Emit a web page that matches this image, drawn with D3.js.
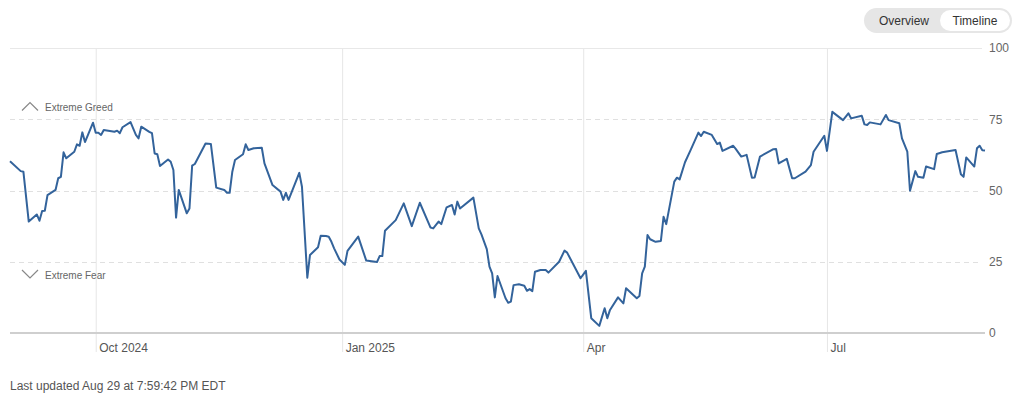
<!DOCTYPE html>
<html>
<head>
<meta charset="utf-8">
<script src="https://cdn.jsdelivr.net/npm/d3@7"></script>
<style>
  body { margin: 0; background: #fff; }
  svg { display: block; font-family: "Liberation Sans", Arial, sans-serif; }
</style>
</head>
<body>
<div class="canvas"></div>
<script>
const canvasWidth = 1024;
const canvasHeight = 397;

// fear & greed index
const dates = [
  '2024-08-30','2024-09-03','2024-09-04','2024-09-06','2024-09-09','2024-09-10','2024-09-11','2024-09-12','2024-09-13',
  '2024-09-16','2024-09-17','2024-09-18','2024-09-19','2024-09-20','2024-09-23','2024-09-24','2024-09-25','2024-09-26',
  '2024-09-27','2024-09-30','2024-10-01','2024-10-02','2024-10-03','2024-10-04','2024-10-08','2024-10-09','2024-10-10',
  '2024-10-11','2024-10-14','2024-10-16','2024-10-17','2024-10-18','2024-10-21','2024-10-22','2024-10-23','2024-10-24',
  '2024-10-25','2024-10-28','2024-10-29','2024-10-30','2024-10-31','2024-11-01','2024-11-04','2024-11-05','2024-11-06',
  '2024-11-07','2024-11-11','2024-11-13','2024-11-15','2024-11-18','2024-11-19','2024-11-20','2024-11-21','2024-11-22',
  '2024-11-25','2024-11-26','2024-11-27','2024-11-29','2024-12-02','2024-12-03','2024-12-06','2024-12-09','2024-12-10',
  '2024-12-11','2024-12-12','2024-12-16','2024-12-17','2024-12-19','2024-12-20','2024-12-23','2024-12-24','2024-12-26',
  '2024-12-27','2024-12-28','2024-12-29','2024-12-31','2025-01-02','2025-01-03','2025-01-07','2025-01-10','2025-01-14',
  '2025-01-15','2025-01-16','2025-01-17','2025-01-21','2025-01-24','2025-01-27','2025-01-30','2025-02-03','2025-02-04',
  '2025-02-06','2025-02-07','2025-02-09','2025-02-11','2025-02-12','2025-02-13','2025-02-14','2025-02-19','2025-02-21',
  '2025-02-22','2025-02-24','2025-02-25','2025-02-26','2025-02-27','2025-02-28','2025-03-03','2025-03-04','2025-03-05',
  '2025-03-06','2025-03-08','2025-03-10','2025-03-11','2025-03-12','2025-03-13','2025-03-14','2025-03-16','2025-03-18',
  '2025-03-19','2025-03-23','2025-03-25','2025-03-26','2025-03-31','2025-04-02','2025-04-04','2025-04-07','2025-04-09',
  '2025-04-10','2025-04-11','2025-04-14','2025-04-16','2025-04-17','2025-04-21','2025-04-22','2025-04-23','2025-04-24',
  '2025-04-25','2025-04-26','2025-04-28','2025-04-30','2025-05-01','2025-05-02','2025-05-05','2025-05-06','2025-05-07',
  '2025-05-09','2025-05-11','2025-05-14','2025-05-15','2025-05-16','2025-05-19','2025-05-21','2025-05-22','2025-05-23',
  '2025-05-27','2025-05-28','2025-05-30','2025-06-01','2025-06-03','2025-06-04','2025-06-06','2025-06-11','2025-06-12',
  '2025-06-13','2025-06-16','2025-06-18','2025-06-19','2025-06-23','2025-06-25','2025-06-26','2025-06-30','2025-07-01',
  '2025-07-03','2025-07-07','2025-07-09','2025-07-10','2025-07-14','2025-07-15','2025-07-16','2025-07-17','2025-07-21',
  '2025-07-23','2025-07-24','2025-07-28','2025-07-29','2025-07-31','2025-08-01','2025-08-03','2025-08-04','2025-08-06',
  '2025-08-07','2025-08-10','2025-08-11','2025-08-13','2025-08-18','2025-08-20','2025-08-21','2025-08-22','2025-08-25',
  '2025-08-26','2025-08-27','2025-08-28','2025-08-29'
];
const values = [
  60.3, 56.8, 56.6, 39.1, 41.6, 39.4, 42.8, 42.9, 48.4,
  50.2, 54.3, 54.8, 63.4, 61.3, 63.6, 66.2, 65.7, 70.4,
  67.0, 73.8, 70.3, 70.3, 69.5, 71.2, 70.6, 71.0, 70.1,
  72.2, 74.0, 69.5, 68.3, 72.4, 70.6, 70.1, 63.0, 62.7,
  58.6, 60.9, 60.1, 57.2, 40.5, 50.2, 42.0, 43.7, 58.7,
  59.3, 66.5, 66.3, 51.0, 50.2, 49.2, 49.2, 56.6, 60.7,
  62.7, 66.2, 64.2, 64.8, 65.0, 59.5, 51.9, 49.6, 46.7,
  49.2, 46.7, 56.2, 51.3, 19.4, 27.4, 30.1, 34.1, 34.0,
  33.8, 32.0, 29.7, 25.8, 23.9, 28.8, 33.8, 25.4, 24.9,
  27.0, 27.0, 35.9, 39.6, 45.5, 37.5, 45.7, 37.0, 36.7,
  39.1, 38.2, 44.1, 44.9, 41.6, 46.1, 43.7, 47.5, 36.7,
  34.6, 29.4, 23.3, 20.9, 12.5, 20.0, 12.2, 10.6, 11.0,
  16.8, 17.1, 16.6, 14.8, 15.4, 14.7, 21.5, 22.1, 22.1,
  21.2, 25.0, 28.9, 28.2, 19.2, 21.8, 5.2, 2.5, 8.7,
  5.2, 8.1, 12.5, 10.4, 15.7, 12.2, 13.0, 20.9, 23.3,
  34.4, 32.9, 32.0, 32.3, 40.8, 38.2, 53.1, 54.5, 53.9,
  59.9, 64.0, 70.3, 69.1, 70.6, 69.5, 66.3, 66.8, 63.9,
  65.7, 64.5, 61.9, 62.5, 54.5, 54.6, 61.9, 64.5, 64.6,
  59.5, 61.1, 54.3, 54.3, 56.6, 58.9, 63.6, 69.2, 63.9,
  77.6, 74.7, 77.1, 75.3, 76.2, 73.2, 73.0, 73.9, 73.2,
  76.5, 74.7, 73.6, 68.3, 63.6, 49.9, 56.8, 54.8, 54.5,
  58.4, 57.5, 62.8, 63.4, 64.2, 55.7, 54.8, 61.6, 58.4,
  64.8, 65.7, 64.1, 64.0
];

const xTickDates = ['2024-10-01', '2025-01-01', '2025-04-01', '2025-07-01'];
const xTickLabels = ['Oct 2024', 'Jan 2025', 'Apr', 'Jul'];
const yTicks = [0, 25, 50, 75, 100];
const zoneLabels = ['Extreme Greed', 'Extreme Fear'];
const toggleLabels = ['Overview', 'Timeline'];
const updatedText = 'Last updated Aug 29 at 7:59:42 PM EDT';

const parseDate = d3.timeParse('%Y-%m-%d');
const data = dates.map((d, i) => ({ date: parseDate(d), value: values[i] }));

const plot = { left: 10, right: 985, top: 48, bottom: 333 };

const svg = d3.select('.canvas')
  .append('svg')
  .attr('width', canvasWidth)
  .attr('height', canvasHeight);

const x = d3.scaleTime()
  .domain(d3.extent(data, d => d.date))
  .range([plot.left, plot.right]);

const y = d3.scaleLinear()
  .domain([0, 100])
  .range([plot.bottom, plot.top]);

// vertical month lines + labels
const xAxisGroup = svg.append('g')
  .attr('transform', 'translate(0,352)');
const xAxis = d3.axisBottom(x)
  .tickValues(xTickDates.map(parseDate))
  .tickFormat((d, i) => xTickLabels[i])
  .tickSize(-(352 - plot.top))
  .tickSizeOuter(0);
xAxisGroup.call(xAxis);
xAxisGroup.select('.domain').remove();
xAxisGroup.selectAll('line')
  .attr('stroke', '#e6e6e6')
  .attr('stroke-width', 1);
xAxisGroup.selectAll('text')
  .attr('text-anchor', 'start')
  .attr('x', 3)
  .attr('y', 0)
  .attr('dy', 0)
  .attr('fill', '#555')
  .attr('font-size', '12px')
  .attr('font-family', '"Liberation Sans", Arial, sans-serif');

// horizontal gridlines
svg.append('g')
  .selectAll('line')
  .data(yTicks.filter(t => t > 0))
  .enter()
  .append('line')
  .attr('x1', plot.left)
  .attr('x2', 982)
  .attr('y1', d => Math.round(y(d)) + 0.5)
  .attr('y2', d => Math.round(y(d)) + 0.5)
  .attr('stroke', d => d === 100 ? '#e8e8e8' : '#e0e0e0')
  .attr('stroke-dasharray', d => d === 100 ? null : '5,4');

// baseline
svg.append('line')
  .attr('x1', plot.left)
  .attr('x2', plot.right)
  .attr('y1', y(0))
  .attr('y2', y(0))
  .attr('stroke', '#cfcfcf')
  .attr('stroke-width', 2);

// y labels on the right
const yAxisGroup = svg.append('g')
  .attr('transform', `translate(${plot.right},0)`);
yAxisGroup.call(d3.axisRight(y).tickValues(yTicks).tickSize(0).tickPadding(4));
yAxisGroup.select('.domain').remove();
yAxisGroup.selectAll('text')
  .attr('fill', '#666')
  .attr('font-size', '12px')
  .attr('font-family', '"Liberation Sans", Arial, sans-serif');

// zone markers
const zones = svg.append('g');
zones.append('path')
  .attr('d', 'M22,110.5 L30,102.5 L38,110.5')
  .attr('fill', 'none')
  .attr('stroke', '#888')
  .attr('stroke-width', 1.2);
zones.append('path')
  .attr('d', 'M22,270 L30,278 L38,270')
  .attr('fill', 'none')
  .attr('stroke', '#888')
  .attr('stroke-width', 1.2);
zones.selectAll('text')
  .data(zoneLabels)
  .enter()
  .append('text')
  .attr('x', 45)
  .attr('y', (d, i) => i === 0 ? 110.5 : 278.5)
  .attr('fill', '#666')
  .attr('font-size', '10px')
  .text(d => d);

// index line
const line = d3.line()
  .x(d => x(d.date))
  .y(d => y(d.value));

svg.append('path')
  .datum(data)
  .attr('d', line)
  .attr('fill', 'none')
  .attr('stroke', '#33639b')
  .attr('stroke-width', 2)
  .attr('stroke-linejoin', 'round');

// toggle
const toggle = svg.append('g');
toggle.append('rect')
  .attr('x', 864).attr('y', 8)
  .attr('width', 148).attr('height', 25)
  .attr('rx', 12.5)
  .attr('fill', '#e6e6e6');
toggle.append('rect')
  .attr('x', 940).attr('y', 10)
  .attr('width', 70).attr('height', 21)
  .attr('rx', 10.5)
  .attr('fill', '#fff');
toggle.selectAll('text')
  .data(toggleLabels)
  .enter()
  .append('text')
  .attr('x', (d, i) => i === 0 ? 904 : 975)
  .attr('y', 24.5)
  .attr('text-anchor', 'middle')
  .attr('fill', '#333')
  .attr('font-size', '12px')
  .text(d => d);

svg.append('text')
  .attr('x', 10)
  .attr('y', 390)
  .attr('fill', '#555')
  .attr('font-size', '12px')
  .text(updatedText);
</script>
</body>
</html>
